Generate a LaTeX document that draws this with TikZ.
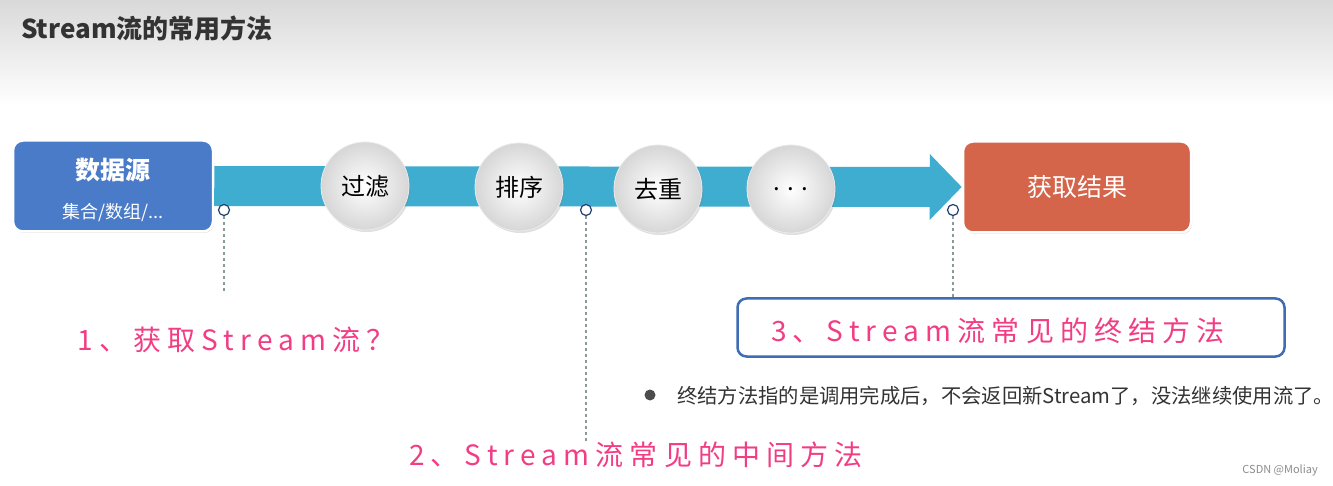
\documentclass[tikz,border=0pt]{standalone}
\usepackage{fontspec}
\setmainfont{Noto Sans CJK SC}
\newfontfamily\handfont{Noto Sans CJK SC}[LetterSpace=22]
\usetikzlibrary{
    arrows.meta,
    shadows,
    positioning,
    calc
}
\definecolor{srcblue}{HTML}{4A7BC8}
\definecolor{flowcyan}{HTML}{3FADD0}
\definecolor{resred}{HTML}{D4654B}
\definecolor{notepink}{HTML}{F23D85}
\definecolor{frameblue}{HTML}{3E6DB5}
\definecolor{markblue}{HTML}{1F3F73}
\definecolor{guidegray}{HTML}{8A9A98}
\definecolor{inkgray}{HTML}{333333}
\tikzset{
    bigbox/.style={rounded corners=10pt, draw=white, line width=2.5pt, minimum width=200pt,
        minimum height=91pt, text=white, align=center,
        drop shadow={shadow xshift=1pt, shadow yshift=-1.5pt, opacity=0.3}},
    stepball/.style={circle, minimum size=88pt, inner sep=0pt, draw=black!8, line width=0.8pt,
        inner color=white, outer color=black!16,
        drop shadow={shadow xshift=1.5pt, shadow yshift=-2pt, opacity=0.25},
        font=\fontsize{24}{26}\selectfont},
    openpt/.style={circle, inner sep=0pt, minimum size=11pt, draw=markblue, fill=white, line width=1.2pt},
    guide/.style={guidegray, line width=1.2pt, dash pattern=on 3pt off 3pt},
    hand/.style={text=notepink, inner sep=0pt, font=\handfont\fontsize{28}{30}\selectfont}
}

\begin{document}
\begin{tikzpicture}[x=1pt, y=-1pt]
    \useasboundingbox (0,0) rectangle (1333,486);
    \fill[white] (0,0) rectangle (1333,486);
    \shade[top color=black!15, bottom color=white] (0,0) rectangle (1333,105);
    \node[anchor=west, inner sep=0pt, text=inkgray, font=\bfseries\fontsize{26}{28}\selectfont] (title) at (21,28) {Stream流的常用方法};

    % source and result
    \node[bigbox, fill=srcblue] (src) at (113,186) {};
    \node[text=white, font=\bfseries\fontsize{25}{28}\selectfont] (srcname) at (113,170) {数据源};
    \node[text=white, font=\fontsize{18}{20}\selectfont] (srckind) at (113,213) {集合/数组/...};
    \node[bigbox, fill=resred, minimum width=228pt, font=\fontsize{25}{28}\selectfont] (res) at (1077,187) {获取结果};

    % the stream
    \draw[flowcyan, line width=40pt, -{Triangle[width=64pt, length=32pt]}] (src.east) -- (res.west);

    \node[stepball] (filt) at (365,186) {过滤};
    \node[stepball] (sort) at (519,187) {排序};
    \node[stepball] (dedup) at (658,189) {去重};
    \node[stepball] (more) at (791,189) {. . .};

    % notes
    \node[hand] (lbl1) at (236,340) {1、获取Stream流？};
    \node[draw=frameblue, line width=2.5pt, rounded corners=9pt, minimum width=547pt, minimum height=58pt] (frame) at (1011,327.5) {};
    \node[hand] (lbl3) at (998,331) {3、Stream流常见的终结方法};
    \node[hand] (lbl2) at (636,455) {2、Stream流常见的中间方法};

    \node[circle, fill=black!70, minimum size=11pt, inner sep=0pt] (dot) at (650,395) {};
    \node[anchor=west, inner sep=0pt, text=inkgray, font=\fontsize{20.3}{22}\selectfont] (note) at (677,396)
        {终结方法指的是调用完成后，不会返回新Stream了，没法继续使用流了。};

    % markers
    \node[openpt] (m1) at (224,210) {};
    \node[openpt] (m2) at (586,210) {};
    \node[openpt] (m3) at (953,210) {};
    \coordinate (m1end) at (224,294);
    \draw[guide] (m1.south) -- (m1end);
    \draw[guide] (m2.south) -- (m2 |- lbl2.north);
    \draw[guide] (m3.south) -- (m3 |- frame.north);

    \node[anchor=east, inner sep=0pt, text=black!45, font=\fontsize{11}{12}\selectfont] (mark) at (1318,470) {CSDN @Moliay};
\end{tikzpicture}
\end{document}
